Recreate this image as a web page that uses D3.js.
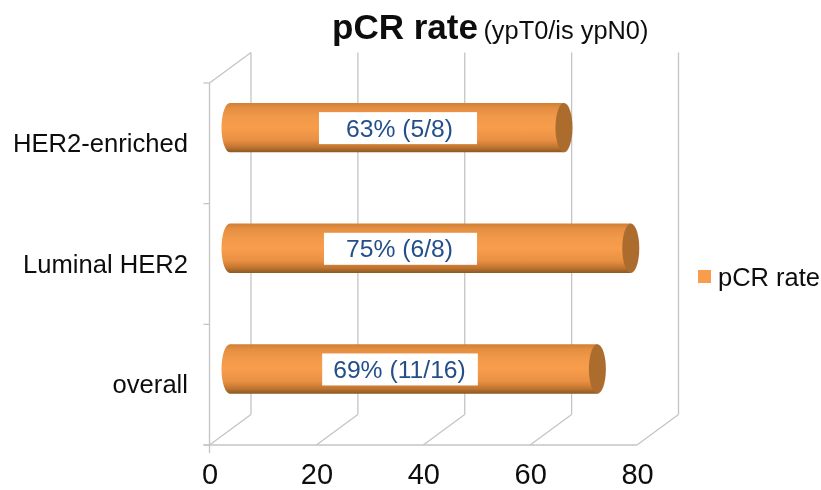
<!DOCTYPE html>
<html><head><meta charset="utf-8">
<script src="https://cdn.jsdelivr.net/npm/d3@7"></script>
<style>
html,body{margin:0;padding:0;background:#fff}
svg{display:block}
text{font-family:"Liberation Sans",Arial,sans-serif}
</style></head><body>
<svg id="c" width="821" height="490"></svg>
<script>
const categories = ["HER2-enriched","Luminal HER2","overall"];
const values = [62.5,75,68.75];
const barLabels = ["63% (5/8)","75% (6/8)","69% (11/16)"];
const xTicks = [0,20,40,60,80];
const seriesName = "pCR rate";

const svg=d3.select("#c");
const defs=svg.append("defs");
const soft=defs.append("filter").attr("id","soft").attr("x",0).attr("y",0).attr("width","100%").attr("height","100%");
soft.append("feGaussianBlur").attr("stdDeviation",0.5);
const tube=defs.append("linearGradient").attr("id","tube").attr("x1",0).attr("x2",0).attr("y1",0).attr("y2",1);
[[0,"#cf7f35"],[0.1,"#e48e42"],[0.3,"#f29a4a"],[0.5,"#f79d4c"],[0.75,"#ea9043"],[0.9,"#bf7430"],[1,"#8a5823"]]
 .forEach(([o,c])=>tube.append("stop").attr("offset",o).attr("stop-color",c));

const root=svg.append("g").attr("filter","url(#soft)");
const x=d3.scaleLinear().domain([0,80]).range([209.5,637]);
const y=d3.scaleBand().domain(categories).range([83,445]);
const dx=41.5,dy=-30.5,yTop=y.range()[0],yBot=y.range()[1];
const grid="#c4c4c4";
const ln=(p,x1,y1,x2,y2,c=grid)=>p.append("line").attr("x1",x1).attr("y1",y1).attr("x2",x2).attr("y2",y2).attr("stroke",c).attr("stroke-width",1.3);

// walls
xTicks.forEach(t=>{
  ln(root,x(t)+dx,yTop+dy,x(t)+dx,yBot+dy);
  ln(root,x(t),yBot,x(t)+dx,yBot+dy);
});
ln(root,x(0),yTop,x(0)+dx,yTop+dy);
ln(root,x(0),yTop,x(0),yBot+8);
ln(root,x(0)-6,yBot,x(80),yBot);
[...categories.map(c=>y(c)),yBot].forEach(v=>ln(root,x(0)-6,v,x(0),v));

// bars
const rx=8.5,ry=24.7,cOff=20.5,cY=-15.7;
const boxPadL=[27,22,11],boxPadR=[24,24,12];
const bars=root.selectAll("g.bar").data(categories).join("g").attr("class","bar");
bars.each(function(c,i){
  const s=d3.select(this);
  const x0=x(0)+cOff,x1=x(values[i])+cOff,cy=y(c)+y.bandwidth()/2+cY;
  s.append("path").attr("fill","url(#tube)")
   .attr("d",`M${x1},${cy-ry}L${x0},${cy-ry}A${rx},${ry} 0 0 0 ${x0},${cy+ry}L${x1},${cy+ry}Z`);
  s.append("ellipse").attr("cx",x1).attr("cy",cy).attr("rx",rx).attr("ry",ry).attr("fill","#ac6c2e");
  const t=s.append("text").attr("x",399.5).attr("y",cy+9)
    .attr("text-anchor","middle").attr("font-size",24.7).attr("fill","#24508a").text(barLabels[i]);
  const bb=t.node().getBBox();
  s.insert("rect","text").attr("x",bb.x-boxPadL[i]).attr("y",cy-15.5).attr("width",bb.width+boxPadL[i]+boxPadR[i]).attr("height",32).attr("fill","#fff");
});

// category labels
root.selectAll("text.cat").data(categories).join("text").attr("class","cat")
 .attr("x",188).attr("y",c=>y(c)+y.bandwidth()/2+8.5)
 .attr("text-anchor","end").attr("font-size",25.6).attr("fill","#111").text(c=>c);

// x tick labels
const ax=root.append("g").attr("transform",`translate(0,${yBot})`)
 .call(d3.axisBottom(x).tickValues(xTicks).tickSize(0).tickPadding(18));
ax.select(".domain").remove();
ax.selectAll("text").attr("font-size",29).attr("font-family",'"Liberation Sans",Arial,sans-serif').attr("fill","#111");

// title
const title=root.append("text").attr("y",39).attr("x",332).attr("fill","#111");
title.append("tspan").attr("font-size",35).attr("font-weight","bold").text("pCR rate");
title.append("tspan").attr("dx",5.5).attr("font-size",25.4).text("(ypT0/is ypN0)");

// legend
root.append("rect").attr("x",698).attr("y",270).attr("width",13).attr("height",13).attr("fill","#f79d4c");
root.append("text").attr("x",718).attr("y",286).attr("font-size",25.5).attr("fill","#111").text(seriesName);
</script>
</body></html>
